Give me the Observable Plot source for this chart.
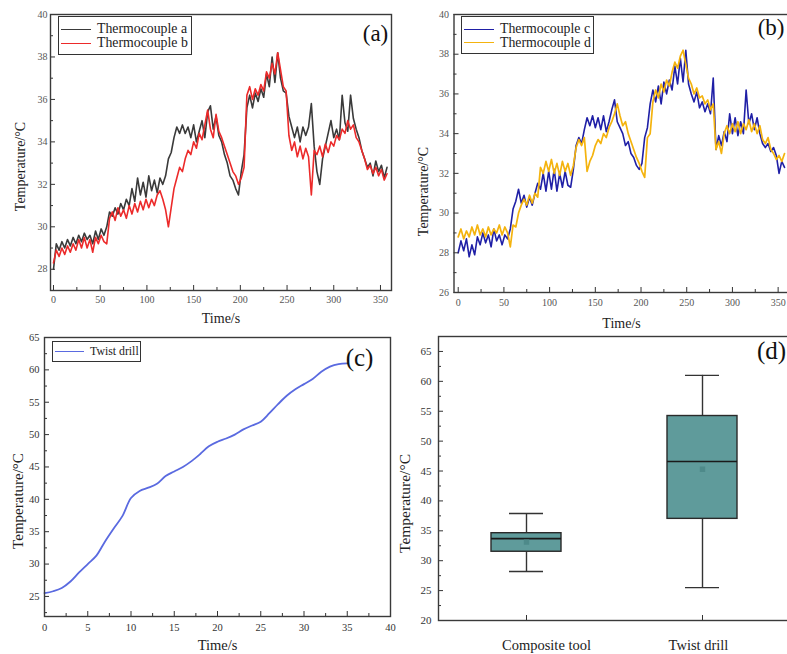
<!DOCTYPE html>
<html><head><meta charset="utf-8">
<script src="https://cdn.jsdelivr.net/npm/d3@7"></script>
<script src="https://cdn.jsdelivr.net/npm/@observablehq/plot@0.6"></script>
<style>
html,body{margin:0;padding:0;background:#fff;overflow:hidden;}
#wrap{position:relative;width:787px;height:654px;overflow:hidden;background:#fff;font-family:"Liberation Serif","Times New Roman",serif;color:#222;}
.legend{position:absolute;border:1.4px solid #333;background:#fff;box-sizing:border-box;}
.legend .row{position:absolute;display:flex;align-items:center;white-space:nowrap;height:16px;}
.legend .sw{display:inline-block;height:0;border-top:1.8px solid;}
</style></head><body><div id="wrap"></div><script>
// ---------- data ----------
const time = d3.range(0, 360, 3); // sampling instants (s)
const seriesNamesAB = ["Thermocouple a", "Thermocouple b"];
const seriesNamesCD = ["Thermocouple c", "Thermocouple d"];
const thermoA = [
28.0,29.2,28.9,29.3,29.0,29.4,29.1,29.5,29.2,29.6,
29.3,29.7,29.4,29.6,29.2,29.8,29.4,29.9,29.6,30.0,
30.7,30.5,30.9,30.6,31.1,30.8,31.3,31.0,31.8,31.2,
32.3,31.5,32.1,31.4,32.4,31.7,32.2,31.6,32.3,32.0,
32.4,33.2,33.5,34.2,34.7,34.4,34.8,34.4,34.7,34.2,
34.8,34.0,34.5,35.0,34.2,35.4,35.7,34.6,35.2,34.3,
34.0,33.4,33.0,32.4,32.2,31.8,31.5,32.6,33.4,35.6,
36.2,35.6,36.3,35.9,36.5,36.1,37.2,36.6,38.0,36.8,
38.2,37.0,36.4,36.3,35.2,34.7,34.2,34.7,34.0,34.7,
34.3,34.7,35.8,33.8,32.6,32.0,33.2,33.8,34.4,35.0,
34.2,34.6,34.1,36.2,34.9,34.5,36.2,35.1,34.6,34.2,
33.6,33.2,32.8,33.0,32.4,33.1,32.6,32.9,32.3,32.8];
const thermoB = [
28.3,28.9,28.6,29.0,28.7,29.1,28.8,29.2,28.9,29.4,
29.0,29.5,29.0,29.4,28.8,29.5,29.2,29.6,29.3,29.2,
30.4,30.7,30.3,30.9,30.5,30.8,30.4,31.0,30.6,31.1,
30.7,31.2,30.8,31.3,30.9,31.3,31.0,31.5,31.7,31.3,
30.8,30.0,30.9,31.8,32.3,32.8,32.6,33.2,33.6,33.4,
34.0,33.7,34.4,34.1,34.8,35.5,34.6,34.2,35.3,34.5,
34.2,33.8,33.4,33.0,32.6,32.4,32.0,32.3,32.8,36.2,
36.6,36.0,36.5,36.2,36.7,36.4,37.3,37.0,37.7,37.2,
38.2,37.4,36.6,36.4,34.3,33.6,34.0,33.3,33.8,33.2,
33.7,33.3,31.5,33.6,33.4,33.8,33.3,33.9,33.5,34.0,
33.8,34.3,34.1,34.6,34.4,35.0,34.6,34.8,34.2,34.0,
33.6,33.2,32.7,32.9,32.5,32.8,32.4,32.7,32.2,32.5];
const thermoC = [
28.0,28.6,28.1,28.7,27.8,28.4,27.9,28.8,28.4,29.0,
28.5,28.9,28.3,29.2,28.6,28.9,28.4,28.9,28.7,29.2,
30.2,30.6,31.2,30.5,30.9,30.3,30.8,30.4,31.0,31.5,
31.2,32.0,31.1,32.1,31.2,32.2,31.1,32.0,31.3,32.1,
31.4,31.3,32.2,33.4,33.8,33.5,34.2,34.8,34.4,34.9,
34.3,34.8,34.2,34.9,34.1,34.6,35.2,35.7,34.6,34.3,
34.0,33.4,33.6,33.0,32.8,32.4,32.2,32.5,33.8,34.3,
35.5,36.2,35.6,36.4,35.5,36.6,36.0,36.7,36.2,37.4,
36.5,37.8,36.6,38.2,36.5,36.0,35.6,36.1,35.3,35.6,
35.1,35.5,35.0,36.8,33.2,33.9,33.4,34.1,33.6,35.0,
34.0,34.8,33.9,34.6,34.0,36.2,34.5,35.0,34.2,34.8,
34.0,33.5,33.3,33.5,33.1,33.3,32.9,32.0,32.6,32.3];
const thermoD = [
28.8,29.2,28.7,29.1,28.8,29.3,28.9,29.4,28.9,29.2,
28.8,29.3,28.9,29.2,29.0,29.4,28.9,29.3,29.0,28.3,
29.4,29.3,30.0,30.4,30.7,30.4,30.9,30.5,31.0,30.8,
32.3,32.0,32.6,32.1,32.7,32.0,32.5,31.9,32.6,32.1,
32.5,31.9,32.4,33.3,33.7,33.4,33.8,32.1,32.6,32.9,
33.4,33.7,33.5,34.0,33.8,34.3,34.6,35.0,35.5,34.9,
34.4,34.6,34.0,33.6,33.2,32.8,32.5,32.1,31.8,33.8,
34.0,35.6,36.2,35.8,36.5,36.1,36.7,36.4,37.1,37.6,
37.3,37.9,38.2,37.5,36.8,36.5,36.0,36.3,35.8,35.9,
35.5,35.7,35.2,35.5,33.2,33.6,33.0,34.0,34.4,34.0,
34.5,34.1,34.6,34.0,34.5,34.2,34.7,34.1,34.5,34.0,
34.4,33.7,33.5,33.8,33.2,33.0,32.7,32.9,32.6,33.0];
const drillName = "Twist drill";
const drillTime = [0,1,2,3,4,5,6,7,8,9,10,11,12,13,14,15,16,17,18,19,20,21,22,23,24,25,26,27,28,29,30,31,32,33,34,35];
const drillTemp = [25.5,25.8,26.3,27.3,28.7,30.0,31.3,33.5,35.5,37.4,40.2,41.3,41.8,42.4,43.6,44.3,45.0,45.9,47.0,48.2,48.9,49.4,50.0,50.8,51.4,52.0,53.3,54.7,56.0,57.0,57.8,58.6,59.7,60.5,60.9,61.0];
const boxCategories = ["Composite tool", "Twist drill"];
const boxMin = [28.2, 25.5];
const boxQ1 = [31.5, 37.0];
const boxMedian = [33.7, 46.6];
const boxQ3 = [34.6, 54.2];
const boxMax = [37.9, 61.0];
const boxMean = [33.1, 45.3];
// tick labels
const tickTimeAB = [0,50,100,150,200,250,300,350];
const tickTimeABMinor = [25,75,125,175,225,275,325];
const tickTempA = [28,30,32,34,36,38,40];
const tickTempAMinor = [27,29,31,33,35,37,39];
const tickTempB = [26,28,30,32,34,36,38,40];
const tickTempBMinor = [27,29,31,33,35,37,39];
const tickTimeC = [0,5,10,15,20,25,30,35,40];
const tickTimeCMinor = [2.5,7.5,12.5,17.5,22.5,27.5,32.5,37.5];
const tickTempC = [25,30,35,40,45,50,55,60,65];
const tickTempCMinor = [22.5,27.5,32.5,37.5,42.5,47.5,52.5,57.5,62.5];
const tickTempD = [20,25,30,35,40,45,50,55,60,65];
const tickTempDMinor = [22.5,27.5,32.5,37.5,42.5,47.5,52.5,57.5,62.5];
const yTitle = "Temperature/°C";
const xTitle = "Time/s";
const panelTags = ["(a)", "(b)", "(c)", "(d)"];

// ---------- drawing ----------
const FONT = '"Liberation Serif","Times New Roman",serif';
const colA = "#3a3a3a", colB = "#ec2a2a", colC = "#1f1fa6", colD = "#f4b30e", colDrill = "#5a6ae0", boxFill = "#5f9b9b";
const wrap = document.getElementById("wrap");
function place(svg, left, top) {
  Object.assign(svg.style, {position: "absolute", left: left + "px", top: top + "px", maxWidth: "none", overflow: "visible"});
  wrap.appendChild(svg);
}
const rowsOf = (ts, vs) => ts.map((t, i) => ({t, v: vs[i]}));
function axesXY({xMajor, xMinor, yMajor, yMinor, xPad, yPad, fontSize, color, xFont}) {
  const m = [
    Plot.axisY({ticks: yMajor, tickSize: -5, tickPadding: yPad + 5, label: null, fontSize, fill: color, stroke: "#333"}),
    Plot.axisY({ticks: yMinor, tickSize: -3, tickFormat: () => "", label: null, stroke: "#333"})
  ];
  if (xMajor) m.push(Plot.axisX({ticks: xMajor, tickSize: -5, tickPadding: xPad + 5, label: null, fontSize: xFont || fontSize, fill: color, stroke: "#333"}));
  if (xMinor) m.push(Plot.axisX({ticks: xMinor, tickSize: -3, tickFormat: () => "", label: null, stroke: "#333"}));
  return m;
}
const style = {fontFamily: FONT, background: "transparent", color: "#333", overflow: "visible"};
const frame = () => Plot.frame({stroke: "#3a3a3a", strokeWidth: 1.4});
const yT = (dx, dy, fs) => Plot.text([yTitle], {text: d => d, frameAnchor: "left", dx, dy, rotate: -90, fontSize: fs, fill: "#222", textAnchor: "middle", lineAnchor: "middle"});
const xT = (dy, fs) => Plot.text([xTitle], {text: d => d, frameAnchor: "bottom", dy, fontSize: fs, fill: "#222", textAnchor: "middle", lineAnchor: "middle"});
const tag = (s, dx, dy, fs) => Plot.text([s], {text: d => d, frameAnchor: "top-right", dx, dy, fontSize: fs, textAnchor: "middle", lineAnchor: "middle", fill: "#111"});

// Panel (a)
place(Plot.plot({
  width: 400, height: 325, marginLeft: 50, marginRight: 9, marginTop: 14, marginBottom: 35,
  x: {domain: [-3.2, 361.8]}, y: {domain: [27, 40]}, style,
  marks: [
    Plot.line(rowsOf(time, thermoA), {x: "t", y: "v", stroke: colA, strokeWidth: 1.6}),
    Plot.line(rowsOf(time, thermoB), {x: "t", y: "v", stroke: colB, strokeWidth: 1.6}),
    ...axesXY({xMajor: tickTimeAB, xMinor: tickTimeABMinor, yMajor: tickTempA, yMinor: tickTempAMinor, xPad: 5, yPad: 3, fontSize: 10, color: "#555"}),
    frame(),
    yT(-30, 14, 14), xT(28, 14), tag(panelTags[0], -16, 19, 23)
  ]
}), 0, 0);

// Panel (b)
place(Plot.plot({
  width: 400, height: 325, marginLeft: 58.5, marginRight: 6.4, marginTop: 14, marginBottom: 33,
  x: {domain: [-4.6, 362]}, y: {domain: [26, 40]}, style,
  marks: [
    Plot.line(rowsOf(time, thermoC), {x: "t", y: "v", stroke: colC, strokeWidth: 1.6}),
    Plot.line(rowsOf(time, thermoD), {x: "t", y: "v", stroke: colD, strokeWidth: 1.7}),
    ...axesXY({xMajor: tickTimeAB, xMinor: tickTimeABMinor, yMajor: tickTempB, yMinor: tickTempBMinor, xPad: 6, yPad: 5, fontSize: 10, color: "#555"}),
    frame(),
    yT(-30.5, 38, 14), xT(31, 14), tag(panelTags[1], -18, 13, 23)
  ]
}), 395, 0);

// Panel (c)
place(Plot.plot({
  width: 400, height: 329, marginLeft: 44, marginRight: 10, marginTop: 12, marginBottom: 38,
  x: {domain: [0, 40]}, y: {domain: [21.9, 65]}, style,
  marks: [
    Plot.line(rowsOf(drillTime, drillTemp), {x: "t", y: "v", stroke: colDrill, strokeWidth: 1.8, curve: "catmull-rom"}),
    ...axesXY({xMajor: tickTimeC, xMinor: tickTimeCMinor, yMajor: tickTempC, yMinor: tickTempCMinor, xPad: 7.5, yPad: 5, fontSize: 10.5, color: "#333"}),
    frame(),
    yT(-26, 24, 15), xT(29, 14.5), tag(panelTags[2], -31, 20, 25)
  ]
}), 0, 325);

// Panel (d)
const boxRows = boxCategories.map((c, i) => ({c, min: boxMin[i], q1: boxQ1[i], med: boxMedian[i], q3: boxQ3[i], max: boxMax[i], mean: boxMean[i]}));
const catLabel = (i, dx) => Plot.text([boxCategories[i]], {x: d => d, text: d => d, frameAnchor: "bottom", dy: 25, dx, fontSize: 14.5, fill: "#222", textAnchor: "middle", lineAnchor: "middle"});
place(Plot.plot({
  width: 400, height: 329, marginLeft: 43, marginRight: 5, marginTop: 11, marginBottom: 34,
  x: {type: "band", domain: boxCategories, paddingInner: 0.6, paddingOuter: 0.3}, y: {domain: [20, 67.5]}, style,
  marks: [
    Plot.ruleX(boxRows, {x: "c", y1: "min", y2: "q1", stroke: "#333", strokeWidth: 1.4}),
    Plot.ruleX(boxRows, {x: "c", y1: "q3", y2: "max", stroke: "#333", strokeWidth: 1.4}),
    Plot.tickY(boxRows, {x: "c", y: "min", stroke: "#333", strokeWidth: 1.4, insetLeft: 18, insetRight: 18}),
    Plot.tickY(boxRows, {x: "c", y: "max", stroke: "#333", strokeWidth: 1.4, insetLeft: 18, insetRight: 18}),
    Plot.barY(boxRows, {x: "c", y1: "q1", y2: "q3", fill: boxFill, stroke: "#2a2a2a", strokeWidth: 1.4}),
    Plot.tickY(boxRows, {x: "c", y: "med", stroke: "#1a1a1a", strokeWidth: 1.6}),
    Plot.dot(boxRows, {x: "c", y: "mean", symbol: "square", r: 2.2, fill: "#4e8a8a", stroke: "#4e8a8a"}),
    ...axesXY({yMajor: tickTempD, yMinor: tickTempDMinor, yPad: 7, fontSize: 11, color: "#333"}),
    Plot.axisX({tickSize: -5, tickFormat: () => "", label: null, stroke: "#333"}),
    catLabel(0, 20), catLabel(1, -4),
    frame(),
    yT(-33, 25, 15.5), tag(panelTags[3], -19, 14, 25)
  ]
}), 395, 325);

// Legends
function legend(left, top, w, h, items, fontSize, lineX, lineLen, textGap) {
  const d = document.createElement("div");
  d.className = "legend";
  Object.assign(d.style, {left: left + "px", top: top + "px", width: w + "px", height: h + "px"});
  items.forEach(({label, color, y}) => {
    const row = document.createElement("div");
    row.className = "row";
    row.style.top = (y - 8) + "px";
    row.style.left = lineX + "px";
    const sw = document.createElement("span");
    sw.className = "sw";
    sw.style.borderColor = color; sw.style.width = lineLen + "px"; sw.style.marginRight = textGap + "px";
    const tx = document.createElement("span");
    tx.textContent = label; tx.style.fontSize = fontSize + "px"; tx.style.color = "#222";
    row.appendChild(sw); row.appendChild(tx);
    d.appendChild(row);
  });
  wrap.appendChild(d);
}
legend(58, 16, 134, 39, [{label: seriesNamesAB[0], color: colA, y: 12}, {label: seriesNamesAB[1], color: colB, y: 26}], 13.8, 2, 30, 6);
legend(461, 16, 133, 38, [{label: seriesNamesCD[0], color: colC, y: 12}, {label: seriesNamesCD[1], color: colD, y: 25.5}], 13.8, 2, 30, 6);
legend(52, 341, 89, 21, [{label: drillName, color: colDrill, y: 9.5}], 11.8, 2, 29, 6);
</script></body></html>
